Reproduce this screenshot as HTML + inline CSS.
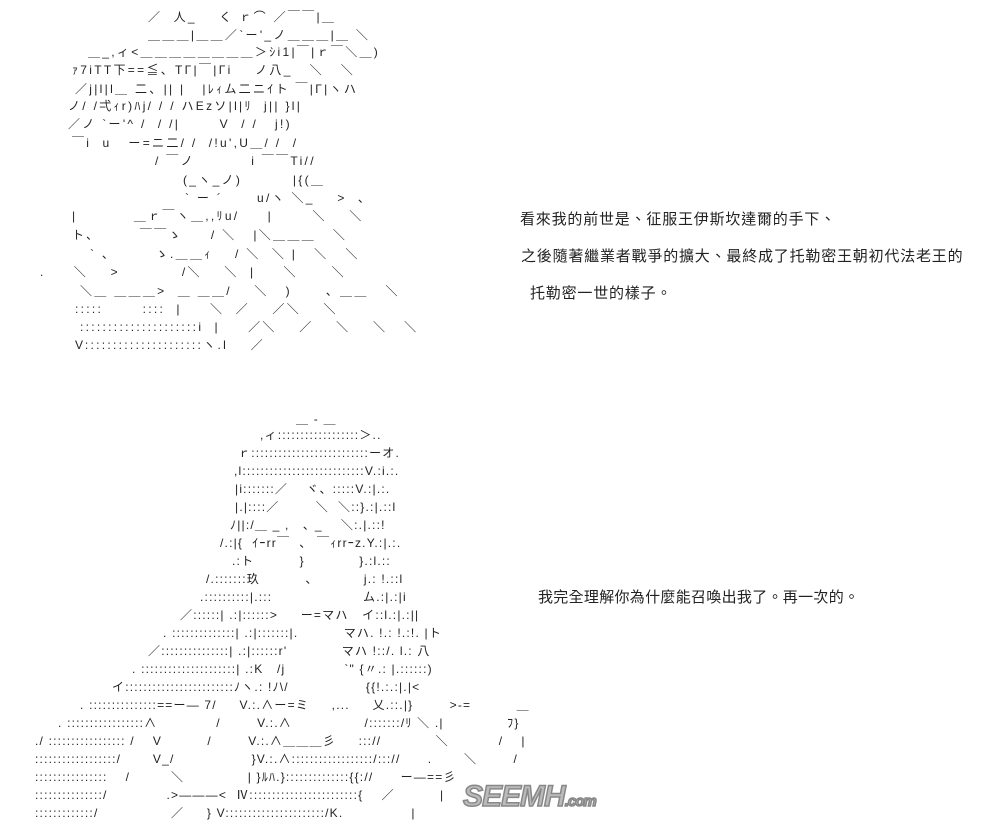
<!DOCTYPE html>
<html><head><meta charset="utf-8"><style>
html,body{margin:0;padding:0;background:#fff;}
body{width:999px;height:825px;position:relative;overflow:hidden;}
.a{position:absolute;white-space:pre;font-family:"Liberation Sans","Noto Sans CJK JP",sans-serif;font-size:12px;line-height:14px;color:#222;letter-spacing:2.3px;}
.b{letter-spacing:1.2px;}
.t{position:absolute;white-space:pre;font-family:"Liberation Sans","Noto Sans CJK TC",sans-serif;font-size:15px;letter-spacing:0.8px;color:#222;}
.wm{position:absolute;left:463px;top:780px;font-family:"Liberation Sans",sans-serif;font-weight:bold;font-style:italic;font-size:30px;color:#bbb;letter-spacing:-1px;-webkit-text-stroke:1.5px #888;}
.wm small{font-size:15px;}
</style></head><body>
<div class="a" style="left:148px;top:10px">／  人_    く ｒ⌒ ／￣￣|＿</div>
<div class="a" style="left:148px;top:28px">＿＿＿|＿＿／`ー'_ノ＿＿＿|＿ ＼</div>
<div class="a" style="left:88px;top:45px">＿_,ィ&lt;＿＿＿＿＿＿＿＿＞ｼi1|￣|ｒ￣＼＿)</div>
<div class="a" style="left:72px;top:63px">ｧ7iTT下==≦、TΓ|￣|Γi    ノ八_   ＼   ＼</div>
<div class="a" style="left:75px;top:82px">／j|l|l＿ 二、|| |   |ﾚｨム二ニｲト ￣|Γ|ヽハ</div>
<div class="a" style="left:68px;top:99px">ノ/ /弌ｨr)ﾊj/ / / ハEzソ|l|ﾘ  j|| }l|</div>
<div class="a" style="left:68px;top:117px">／ノ `ー'^ /  / /|       V  / /   j!)</div>
<div class="a" style="left:72px;top:136px">￣i  u   ー=ニ二/ /  /!u',U＿/ /  /</div>
<div class="a" style="left:155px;top:154px">/ ￣ノ          i ￣￣Ti//</div>
<div class="a" style="left:183px;top:173px">(_ヽ_ノ)         |{(＿</div>
<div class="a" style="left:185px;top:191px">` ー ´      u/ヽ ＼_    &gt;  、</div>
<div class="a" style="left:72px;top:209px">|          ＿ｒ￣ヽ＿,,ﾘu/     |       ＼    ＼</div>
<div class="a" style="left:72px;top:228px">ト、       ￣￣ゝ     / ＼   |＼＿＿＿   ＼</div>
<div class="a" style="left:90px;top:247px">` 、       ゝ.＿＿ｨ    / ＼  ＼ |   ＼   ＼</div>
<div class="a" style="left:40px;top:265px">.     ＼    &gt;           /＼    ＼  |     ＼      ＼</div>
<div class="a" style="left:80px;top:284px">＼＿ ＿＿＿&gt;  ＿ ＿＿/    ＼   )      、＿＿   ＼</div>
<div class="a" style="left:75px;top:302px">:::::       ::::  |     ＼  ／    ／＼    ＼</div>
<div class="a" style="left:80px;top:320px">:::::::::::::::::::::i  |     ／＼    ／    ＼    ＼   ＼</div>
<div class="a" style="left:75px;top:338px">V:::::::::::::::::::::ヽ.l    ／</div>

<div class="t" style="left:520px;top:208px">看來我的前世是、征服王伊斯坎達爾的手下、</div>
<div class="t" style="left:521px;top:245px">之後隨著繼業者戰爭的擴大、最終成了托勒密王朝初代法老王的</div>
<div class="t" style="left:530px;top:282px">托勒密一世的樣子。</div>
<div class="t" style="left:538px;top:586px;letter-spacing:0.3px">我完全理解你為什麼能召喚出我了。再一次的。</div>

<div class="a b" style="left:296px;top:412px">＿ - ＿</div>
<div class="a b" style="left:260px;top:428px">,ィ::::::::::::::::::＞..</div>
<div class="a b" style="left:238px;top:446px">ｒ::::::::::::::::::::::::::ーオ.</div>
<div class="a b" style="left:234px;top:464px">,l:::::::::::::::::::::::::::V.:i.:.</div>
<div class="a b" style="left:235px;top:482px">|i:::::::／    ヾ、:::::V.:|.:.</div>
<div class="a b" style="left:235px;top:500px">|.|::::／        ＼  ＼::}.:|.::l</div>
<div class="a b" style="left:230px;top:518px">ﾉ||:/＿ _ ,   ､ _    ＼:.|.::!</div>
<div class="a b" style="left:220px;top:536px">/.:|{  ｲｰrr￣  、 ￣ｨrrｰz.Y.:|.:.</div>
<div class="a b" style="left:232px;top:554px">.:ト          }            }.:l.::</div>
<div class="a b" style="left:206px;top:572px">/.:::::::玖          、          j.: !.::l</div>
<div class="a b" style="left:200px;top:590px">.::::::::::|.:::                    ム.:|.:|i</div>
<div class="a b" style="left:180px;top:608px">／::::::| .:|::::::&gt;     ー=マハ   イ::l.:|.:||</div>
<div class="a b" style="left:163px;top:626px">. ::::::::::::::| .:|:::::::|.          マハ. !.: !.:!. |ト</div>
<div class="a b" style="left:148px;top:644px">／:::::::::::::::| .:|::::::r'            マハ !::/. l.: 八</div>
<div class="a b" style="left:132px;top:662px">. :::::::::::::::::::::| .:K   /j             `" {〃.: |.::::::)</div>
<div class="a b" style="left:112px;top:680px">イ::::::::::::::::::::::::ﾉヽ.: !ﾉ\/                 {{!.:.:|.|&lt;</div>
<div class="a b" style="left:80px;top:698px">. :::::::::::::::==ー― 7/     V.:.∧ー=ミ     ,...     乂.::.|}        &gt;-=          ＿</div>
<div class="a b" style="left:58px;top:716px">. :::::::::::::::::∧             /        V.:.∧                /:::::::/ﾘ ＼ .|              ﾌ}</div>
<div class="a b" style="left:35px;top:734px">./ ::::::::::::::::: /    V          /        V.:.∧＿＿＿彡     ::://            ＼           /    |</div>
<div class="a b" style="left:35px;top:752px">::::::::::::::::::/       V_/                 }V.:.∧::::::::::::::::::/::://      .       ＼        /</div>
<div class="a b" style="left:35px;top:770px">::::::::::::::::    /         ＼              | }ﾙﾊ.}::::::::::::::{{://      ー―==彡</div>
<div class="a b" style="left:35px;top:788px">:::::::::::::::/             .&gt;―――&lt;  Ⅳ::::::::::::::::::::::::{    ／          |</div>
<div class="a b" style="left:35px;top:806px">:::::::::::::/                ／     } V::::::::::::::::::::::/K.               |</div>

<div class="wm">SEEMH<small>.com</small></div>
</body></html>
